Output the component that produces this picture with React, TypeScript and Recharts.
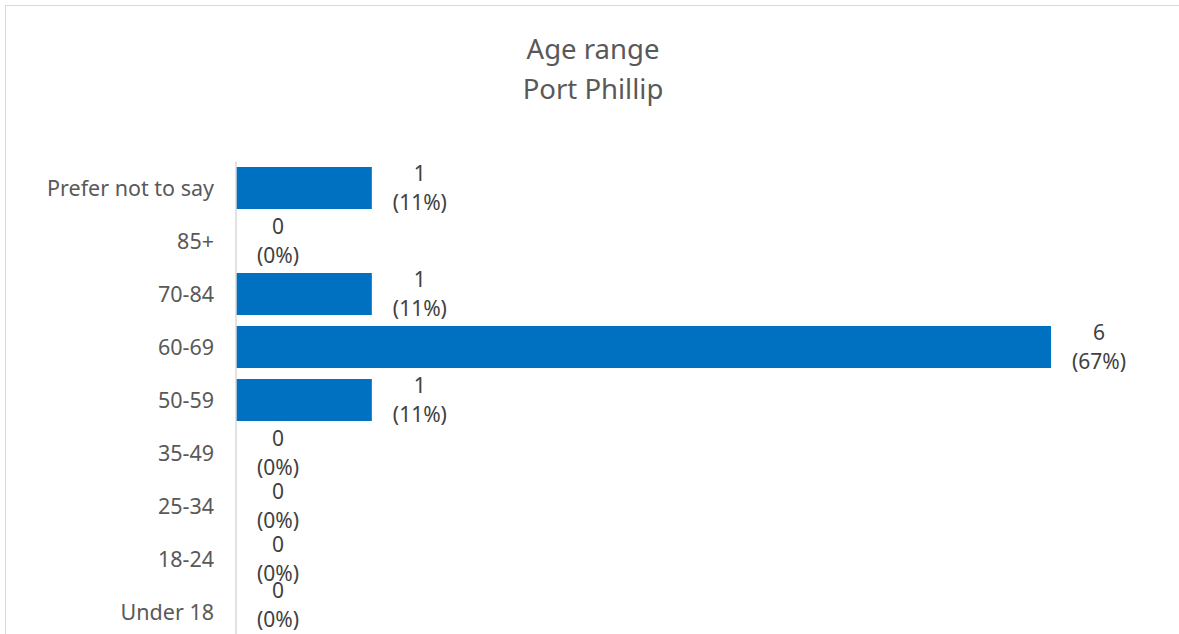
import React from "react";
import { BarChart, Bar, XAxis, YAxis, LabelList } from "recharts";

const categories = ["Prefer not to say", "85+", "70-84", "60-69", "50-59", "35-49", "25-34", "18-24", "Under 18"];
const counts = [1, 0, 1, 6, 1, 0, 0, 0, 0];
const titleLines = ["Age range", "Port Phillip"];

const total = counts.reduce((a, b) => a + b, 0);
const data = categories.map((name, i) => ({ name, value: counts[i] }));

const FONT = "'Noto Sans', sans-serif";
const LABEL_SIZE = 21;

function textWidth(s: string, size: number) {
  const c = document.createElement("canvas").getContext("2d");
  if (!c) return s.length * size * 0.55;
  c.font = `${size}px 'Noto Sans'`;
  return c.measureText(s).width;
}

function ValueLabel(props: any) {
  const { x, y, width, height, value } = props;
  const top = String(value);
  const bottom = `(${Math.round((value / total) * 100)}%)`;
  const w = Math.max(textWidth(top, LABEL_SIZE), textWidth(bottom, LABEL_SIZE));
  const barEnd = x + (value === 0 ? 0 : width);
  const cx = barEnd + 21 + w / 2;
  // keep the label block inside the chart frame, like the original does
  const cy = Math.min(y + height / 2, 605);
  return (
    <text x={cx} y={cy} textAnchor="middle" fill="#404040" fontSize={LABEL_SIZE} fontFamily={FONT}>
      <tspan x={cx} y={cy - 7}>{top}</tspan>
      <tspan x={cx} y={cy + 22}>{bottom}</tspan>
    </text>
  );
}

export default function App() {
  return (
    <div style={{ position: "fixed", left: 0, top: 0, width: 1179, height: 634, overflow: "hidden", background: "#fff", fontFamily: FONT }}>
      <div style={{ position: "absolute", left: 5, top: 5, width: 1180, height: 660, border: "1px solid #d9d9d9" }} />
      <div style={{ position: "absolute", left: 0, width: 1186, top: 29, textAlign: "center", color: "#595959", fontSize: 27.5, lineHeight: "40px" }}>
        {titleLines.map((t) => (
          <div key={t}>{t}</div>
        ))}
      </div>
      <div style={{ position: "absolute", left: 0, top: 0 }}>
        <BarChart
          width={1179}
          height={645}
          data={data}
          layout="vertical"
          margin={{ top: 161.5, right: 128, bottom: 6.5, left: 0 }}
          barCategoryGap={5.5}
        >
          <XAxis type="number" domain={[0, 6]} hide />
          <YAxis
            type="category"
            dataKey="name"
            width={236}
            axisLine={{ stroke: "#d9d9d9", strokeWidth: 1.5 }}
            tickLine={false}
            tickMargin={16}
            tick={{ fill: "#595959", fontSize: 21.5, fontFamily: FONT }}
          />
          <Bar dataKey="value" fill="#0070c0" minPointSize={0.01} isAnimationActive={false}>
            <LabelList dataKey="value" content={<ValueLabel />} />
          </Bar>
        </BarChart>
      </div>
    </div>
  );
}
